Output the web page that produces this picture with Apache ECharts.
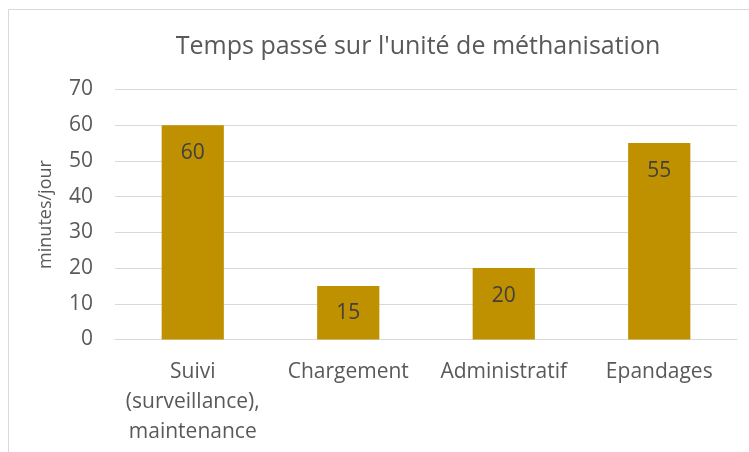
<!DOCTYPE html>
<html>
<head>
<meta charset="utf-8">
<script src="https://cdn.jsdelivr.net/npm/echarts@6/dist/echarts.min.js"></script>
<style>html,body{margin:0;padding:0;background:#fff}#c{width:749px;height:452px}</style>
</head>
<body>
<div id="c"></div>
<script>
const categories = ['Suivi\n(surveillance),\nmaintenance', 'Chargement', 'Administratif', 'Epandages'];
const values = [60, 15, 20, 55];
const yTicks = {min: 0, max: 70, interval: 10};
const titleText = "Temps passé sur l'unité de méthanisation";
const yName = 'minutes/jour';

const FONT = '"Open Sans", Lato, sans-serif';
const chart = echarts.init(document.getElementById('c'), null, {renderer: 'canvas'});
chart.setOption({
  animation: false,
  backgroundColor: '#fff',
  graphic: [{
    type: 'rect', silent: true, z: -1,
    shape: {x: 8.5, y: 9.5, width: 900, height: 600},
    style: {fill: 'none', stroke: '#d9d9d9', lineWidth: 1}
  }],
  title: {
    text: titleText, left: 413, top: 29, textAlign: 'center',
    textStyle: {fontFamily: FONT, fontSize: 25, fontWeight: 'normal', color: '#595959'}
  },
  grid: {left: 115, right: 12, top: 89.5, bottom: 112.5, containLabel: false},
  xAxis: {
    type: 'category', data: categories,
    axisLine: {show: true, lineStyle: {color: '#d9d9d9', width: 1}},
    axisTick: {show: false},
    axisLabel: {fontFamily: FONT, fontSize: 21, color: '#595959', lineHeight: 30, margin: 18, interval: 0}
  },
  yAxis: {
    type: 'value', min: yTicks.min, max: yTicks.max, interval: yTicks.interval,
    name: yName, nameLocation: 'middle', nameGap: 60, nameRotate: 90,
    nameTextStyle: {fontFamily: FONT, fontSize: 18, color: '#595959'},
    axisLine: {show: false}, axisTick: {show: false},
    axisLabel: {fontFamily: FONT, fontSize: 21, color: '#595959', margin: 22},
    splitLine: {lineStyle: {color: '#d9d9d9', width: 1}}
  },
  series: [{
    type: 'bar', data: values, barWidth: '40%',
    itemStyle: {color: '#BF9000'},
    label: {show: true, position: 'insideTop', distance: 17, fontFamily: FONT, fontSize: 21, color: '#404040'}
  }]
});
</script>
</body>
</html>
